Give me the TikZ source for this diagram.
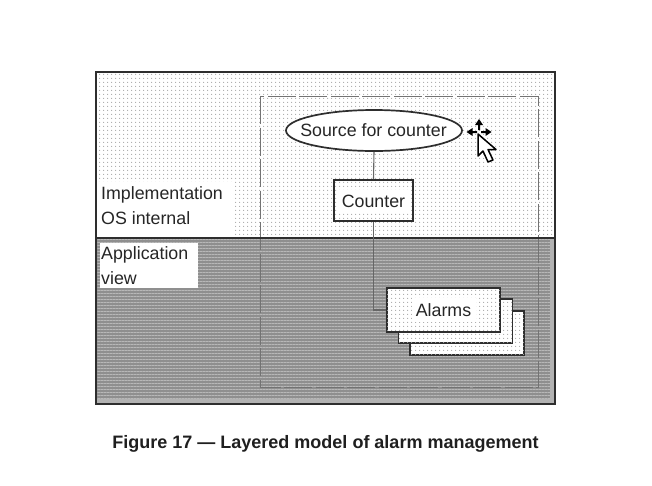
\documentclass[tikz,border=0pt]{standalone}
\usepackage{fontspec}
\setmainfont{Liberation Sans}
\usetikzlibrary{shapes.geometric,patterns.meta,calc}
\definecolor{linecol}{gray}{0.18}
\definecolor{darkbg}{gray}{0.56}
\definecolor{darkline}{gray}{0.72}
\definecolor{dotcol}{gray}{0.66}
\tikzset{
  x=1pt,y=-1pt,
  dots/.style={pattern={Dots[distance=4pt,radius=0.7pt]},pattern color=dotcol},
  hatch/.style={pattern={Lines[angle=0,distance=3pt,line width=0.7pt]},pattern color=darkline},
  frameline/.style={draw=linecol,line width=1.7pt},
  conn/.style={draw=black!60,line width=1.1pt},
  dashframe/.style={draw=black!55,line width=1pt,dash pattern=on 28pt off 3.5pt},
  lbl/.style={font=\fontsize{17.8}{20}\selectfont,text=black!85,inner sep=0pt},
  stackbox/.style={frameline,fill=white,inner sep=0pt,minimum height=44pt},
}
\begin{document}
\begin{tikzpicture}
\useasboundingbox (0,0) rectangle (652,485);
\fill[white] (0,0) rectangle (652,485);
% zones
\path[dots] (96,72) rectangle (555,238);
\fill[darkbg] (96,238) rectangle (555,404);
\path[hatch] (96,238) rectangle (555,404);
\fill[black!30] (550,238) rectangle (555,404);
\fill[black!30] (96,399) rectangle (555,404);
% labels
\fill[white] (98,182) rectangle (234,236);
\node[lbl,anchor=west] (impl) at (101,195) {Implementation};
\node[lbl,anchor=west] (os) at (101,218) {OS internal};
\fill[white] (100,243) rectangle (198,288);
\node[lbl,anchor=west] (app) at (101,255) {Application};
\node[lbl,anchor=west] (view) at (101,278) {view};
% dashed
\path[dashframe] (260,96) rectangle (538,387);
% frame
\path[frameline] (96,72) rectangle (555,404);
\path[frameline] (96,238) -- (555,238);
% nodes
\node[ellipse,frameline,fill=white,minimum width=176pt,minimum height=41pt,inner sep=0pt] (src) at (374,130.5) {};
\node[lbl] (srcl) at (373.5,130) {Source for counter};
\fill[white] (334,180) rectangle (413,221);
\path[dots] (334,180) rectangle (413,221);
\fill[white] (337,190) rectangle (411,212);
\node[rectangle,frameline,minimum width=79pt,minimum height=41pt,inner sep=0pt] (cnt) at (373.5,200.5) {};
\node[lbl] (cntl) at (373.5,201.5) {Counter};
\node[stackbox,minimum width=114pt] (a3) at (467,333) {};
\path[dots] ([shift={(1,1)}]a3.north west) rectangle ([shift={(-1,-1)}]a3.south east);
\node[stackbox,minimum width=114pt] (a2) at (455.5,321) {};
\path[dots] ([shift={(1,1)}]a2.north west) rectangle ([shift={(-1,-1)}]a2.south east);
\node[stackbox,minimum width=113pt] (a1) at (443.5,310) {};
\path[dots] ([shift={(1,1)}]a1.north west) rectangle ([shift={(-1,-1)}]a1.south east);
\fill[white] (412,298) rectangle (476,322);
\node[lbl] (al) at (443.5,310.5) {Alarms};
% connectors
\path[conn] (src.south) -- (cnt.north);
\path[conn] (cnt.south) -- (cnt.south |- a1.west) -- (a1.west);
% caption
\node[font=\fontsize{18}{20}\bfseries\selectfont,text=black!88,inner sep=0pt] (cap) at (325.5,444) {Figure 17 — Layered model of alarm management};
% cursor
\draw[fill=white,draw=black,line width=1.5pt,line join=round] (478,134) -- (478,156) -- (483,151) -- (488,162) -- (493,160) -- (488,149.5) -- (496,149.5) -- cycle;
\fill[black] (479,119) -- (483,125) -- (480,125) -- (480,130) -- (478,130) -- (478,125) -- (475,125) -- cycle;
\fill[black] (466.5,132) -- (472.5,128) -- (472.5,131) -- (477,131) -- (477,133) -- (472.5,133) -- (472.5,136) -- cycle;
\fill[black] (491.5,132) -- (485.5,128) -- (485.5,131) -- (481,131) -- (481,133) -- (485.5,133) -- (485.5,136) -- cycle;
\end{tikzpicture}
\end{document}
